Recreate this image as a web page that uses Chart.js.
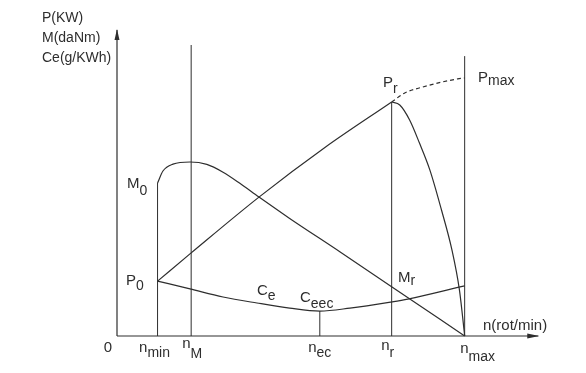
<!DOCTYPE html>
<html>
<head>
<meta charset="utf-8">
<script src="https://cdn.jsdelivr.net/npm/chart.js@4"></script>
<style>
  html, body { margin: 0; padding: 0; background: #fff; }
  canvas { display: block; }
</style>
</head>
<body>
<canvas id="engineChart" width="586" height="373"></canvas>
<script>
// marks on the n axis (rot/min)
const tickMain = ['0', 'n', 'n', 'n', 'n', 'n'];
const tickSub = ['', 'min', 'M', 'ec', 'r', 'max'];
const tickSpeeds = [0, 700, 1280, 3500, 4740, 6000];
// how high each vertical guide goes
const guideTops = [0, 51, 97, 8.3, 78, 93.3];

// effective power P (rising up to Pr, then falling to n max)
const powerN = [700, 1280, 2450, 3600, 4740, 4880, 5050, 5220, 5400, 5600, 5780, 5910, 5965, 6000];
const powerKW = [18.3, 27.7, 46.3, 63, 78, 77, 72, 64.3, 55.3, 42, 28.7, 15.3, 6.3, 0];
const peakIndex = 4;

// power without governor (dashed, up to Pmax)
const powerMaxN = [4740, 4965, 5276, 5620, 5880, 6000];
const powerMaxKW = [78, 81, 83, 84.7, 85.7, 86];

// torque M
const torqueN = [700, 793, 966, 1260, 1550, 1830, 2120, 2450, 2980, 3845, 4720, 6000];
const torqueVal = [51, 55, 57.3, 58, 57.2, 54.6, 50.9, 46.3, 39.2, 28.1, 16.7, 0];

// specific consumption Ce
const ceN = [700, 1260, 1830, 2415, 2980, 3500, 4020, 4720, 5020, 6000];
const ceVal = [18.3, 15.7, 13, 11, 9.3, 8.3, 9.3, 11.3, 12.3, 16.7];

const ink = '#2e2e2e';
const FONT = '"Liberation Sans", Arial, sans-serif';

const pts = (xs, ys) => xs.map((v, i) => ({ x: v, y: ys[i] }));

const curve = (data, extra) => Object.assign({
    data: data,
    borderColor: ink,
    borderWidth: 1.2,
    pointRadius: 0,
    fill: false,
    clip: false,
    cubicInterpolationMode: 'monotone'
}, extra || {});

const straight = { cubicInterpolationMode: 'default', tension: 0 };

const datasets = [
    // axes
    curve([{ x: 0, y: 0 }, { x: 7270, y: 0 }], straight),
    curve([{ x: 0, y: 0 }, { x: 0, y: 102 }], straight)
];

for (let i = 1; i < tickSpeeds.length; i++) {
    datasets.push(curve([{ x: tickSpeeds[i], y: 0 }, { x: tickSpeeds[i], y: guideTops[i] }],
        Object.assign({ borderWidth: 1 }, straight)));
}

datasets.push(curve(pts(powerN.slice(0, peakIndex + 1), powerKW.slice(0, peakIndex + 1))));
datasets.push(curve(pts(powerN.slice(peakIndex), powerKW.slice(peakIndex))));
datasets.push(curve(pts(powerMaxN, powerMaxKW), { borderDash: [4, 3] }));
datasets.push(curve(pts(torqueN, torqueVal)));
datasets.push(curve(pts(ceN, ceVal)));

// text with a subscript, x = left, y = baseline
function subText(ctx, x, y, main, sub, subDy, size) {
    ctx.font = size + 'px ' + FONT;
    ctx.fillText(main, x, y);
    if (sub) {
        const w = ctx.measureText(main).width;
        ctx.font = (size - 1) + 'px ' + FONT;
        ctx.fillText(sub, x + w, y + subDy);
    }
}

function subWidth(ctx, main, sub, size) {
    ctx.font = size + 'px ' + FONT;
    let w = ctx.measureText(main).width;
    ctx.font = (size - 1) + 'px ' + FONT;
    return w + (sub ? ctx.measureText(sub).width : 0);
}

const labelPlugin = {
    id: 'engineLabels',
    afterDatasetsDraw(chart) {
        const { ctx, scales: { x, y } } = chart;
        ctx.save();
        ctx.fillStyle = ink;
        ctx.textBaseline = 'alphabetic';

        // arrow heads
        const ox = x.getPixelForValue(0);
        const top = y.getPixelForValue(102);
        ctx.beginPath();
        ctx.moveTo(ox, top - 1);
        ctx.lineTo(ox - 2.5, top + 10);
        ctx.lineTo(ox + 2.5, top + 10);
        ctx.closePath();
        ctx.fill();
        const ax = x.getPixelForValue(7270);
        const oy = y.getPixelForValue(0);
        ctx.beginPath();
        ctx.moveTo(ax + 1, oy);
        ctx.lineTo(ax - 11, oy - 2.5);
        ctx.lineTo(ax - 11, oy + 2.5);
        ctx.closePath();
        ctx.fill();

        // n axis marks
        const tickDx = [-9, -3, 1, 0, -4, 13];
        const tickBase = [352, 352, 348, 352, 350, 353];
        const tickSubDy = [0, 5, 10, 5, 7, 8];
        tickSpeeds.forEach((n, i) => {
            const cx = x.getPixelForValue(n) + tickDx[i];
            const w = subWidth(ctx, tickMain[i], tickSub[i], 15);
            subText(ctx, cx - w / 2, tickBase[i], tickMain[i], tickSub[i], tickSubDy[i], 15);
        });

        // axis titles
        subText(ctx, 42, 22, 'P(KW)', '', 0, 14);
        subText(ctx, 42, 42, 'M(daNm)', '', 0, 14);
        subText(ctx, 42, 62, 'Ce(g/KWh)', '', 0, 14);
        subText(ctx, 483, 330, 'n(rot/min)', '', 0, 15);

        // curve notes
        subText(ctx, 127, 188, 'M', '0', 7, 15);
        subText(ctx, 126, 285, 'P', '0', 5, 15);
        subText(ctx, 383, 87, 'P', 'r', 6, 15);
        subText(ctx, 478, 82, 'P', 'max', 3, 15);
        subText(ctx, 398, 282, 'M', 'r', 3, 15);
        subText(ctx, 257, 295, 'C', 'e', 5, 15);
        subText(ctx, 300, 302, 'C', 'eec', 6, 15);
        ctx.restore();
    }
};

new Chart(document.getElementById('engineChart').getContext('2d'), {
    type: 'line',
    data: { datasets: datasets },
    options: {
        responsive: false,
        animation: false,
        layout: { padding: { left: 117, right: 46, top: 30, bottom: 37 } },
        plugins: { legend: { display: false }, tooltip: { enabled: false } },
        scales: {
            x: { type: 'linear', min: 0, max: 7300, display: false },
            y: { type: 'linear', min: 0, max: 102, display: false }
        }
    },
    plugins: [labelPlugin]
});
</script>
</body>
</html>
